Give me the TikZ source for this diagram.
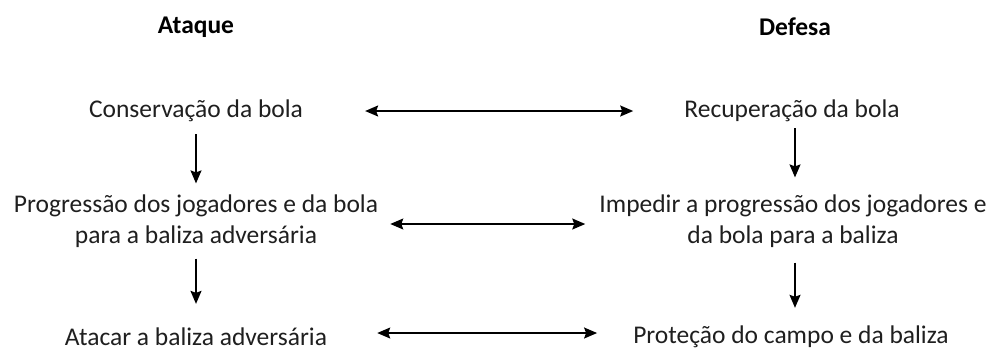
\documentclass[tikz,border=0pt]{standalone}
\usepackage{fontspec}
\setmainfont{Carlito}
\usetikzlibrary{arrows.meta}
\tikzset{
  txt/.style={font=\fontsize{25.5}{31}\selectfont, text=black!88, align=center, inner sep=0pt},
  head/.style={font=\bfseries\fontsize{25.5}{30}\selectfont, inner sep=0pt},
  arr/.style={-{Stealth[length=13pt,width=11pt,inset=2pt]}, line width=1.5pt},
  darr/.style={{Stealth[length=13pt,width=11pt,inset=2pt]}-{Stealth[length=13pt,width=11pt,inset=2pt]}, line width=1.5pt}
}
\begin{document}
\begin{tikzpicture}[x=1pt,y=-1pt]
  \useasboundingbox[fill=white] (0,0) rectangle (990,349);
  % headings
  \node[head] (ataque) at (196,27) {Ataque};
  \node[head] (defesa) at (795,27) {Defesa};
  % left column
  \node[txt] (cons) at (196,111) {Conservação da bola};
  \node[txt] (prog) at (196,221) {Progressão dos jogadores e da bola\\para a baliza adversária};
  \node[txt] (atac) at (196,337) {Atacar a baliza adversária};
  % right column
  \node[txt] (recup) at (792,111) {Recuperação da bola};
  \node[txt] (imped) at (793,221) {Impedir a progressão dos jogadores e\\da bola para a baliza};
  \node[txt] (prot) at (791,337) {Proteção do campo e da baliza};
  % down arrows
  \draw[arr, shorten <=12pt, shorten >=11pt] (cons.south) -- (cons.south |- prog.north);
  \draw[arr, shorten <=11pt, shorten >=24pt] (prog.south) -- (prog.south |- atac.north);
  \draw[arr, shorten <=6pt, shorten >=17pt] ([xshift=3pt]recup.south) -- ([xshift=3pt]recup.south |- imped.north);
  \draw[arr, shorten <=15pt, shorten >=18pt] ([xshift=2pt]imped.south) -- ([xshift=2pt]imped.south |- prot.north);
  % across
  \draw[darr, shorten <=62pt, shorten >=51pt] (cons.east) -- (recup.west);
  \draw[darr, shorten <=12pt, shorten >=14pt] ([yshift=-3pt]prog.east) -- ([yshift=-3pt]imped.west);
  \draw[darr, shorten <=50pt, shorten >=36pt] ([yshift=4pt]atac.east) -- ([yshift=4pt]prot.west);
\end{tikzpicture}
\end{document}
